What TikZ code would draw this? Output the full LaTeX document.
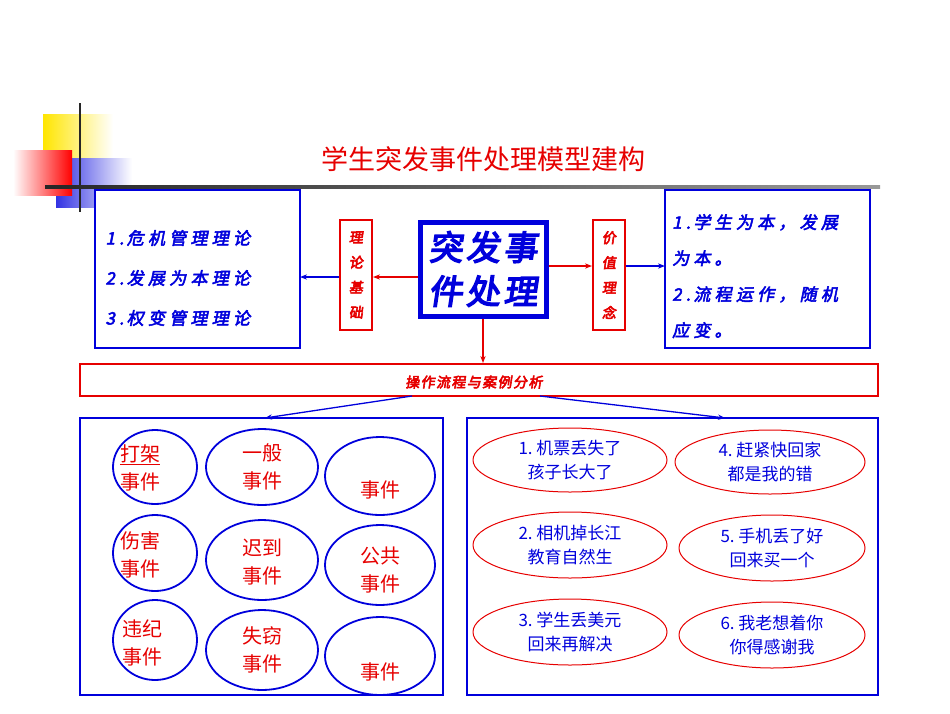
\documentclass[tikz,border=0pt]{standalone}
\usepackage{fontspec}
\newfontfamily\cjk{Noto Sans CJK SC}
\newfontfamily\cjkb{Noto Sans CJK SC}[FakeSlant=0.2,FakeBold=3,LetterSpace=25]
\newfontfamily\cjkc{Noto Sans CJK SC}[FakeSlant=0.15,FakeBold=4,LetterSpace=10]
\usetikzlibrary{arrows.meta}
\definecolor{bl}{RGB}{0,0,220}
\definecolor{rd}{RGB}{230,0,0}
\tikzset{
 bbox/.style={draw=bl,line width=2.5pt},
 rbox/.style={draw=rd,line width=2pt},
 ell/.style={draw=bl,line width=1.8pt},
 rell/.style={draw=rd,line width=1pt},
 ra/.style={draw=rd,line width=1.5pt,-{Stealth[length=7pt]}},
 ba/.style={draw=bl,line width=1.5pt,-{Stealth[length=7pt]}},
 et/.style={text=rd,font=\cjk\fontsize{20}{28}\selectfont,align=center},
 rt/.style={text=bl,font=\cjk\fontsize{17}{24}\selectfont,align=center},
 lt/.style={anchor=west,text=bl,font=\cjkb\fontsize{17}{20}\selectfont},
}
\begin{document}
\begin{tikzpicture}[x=1pt,y=-1pt]
\useasboundingbox (0,0) rectangle (950,713);
% decoration
\shade[left color=yellow!80!orange,right color=white] (43,114) rectangle (113,185);
\shade[left color=bl!80,right color=white] (56,158) rectangle (132,207);
\shade[left color=white,right color=red] (13,150) rectangle (72,195);
\draw[line width=2.5pt,black!85] (80,103) -- (80,212);
\shade[left color=black!85,right color=black!40] (45,185.5) rectangle (880,188.5);
\node[text=rd,font=\cjk\fontsize{27}{30}\selectfont] (title) at (483,159) {学生突发事件处理模型建构};
% top boxes
\draw[bbox,fill=white] (95,190) rectangle (300,348);
\coordinate (lb) at (300,277);
\node[lt] (l1) at (102,238) {1.\,危机管理理论};
\node[lt] (l2) at (102,278) {2.\,发展为本理论};
\node[lt] (l3) at (102,318) {3.\,权变管理理论};
\node[rbox,minimum width=32pt,minimum height=110pt,inner sep=0pt,text=rd,align=center,font=\cjkc\fontsize{14}{25}\selectfont] (jc) at (356,275) {理\\论\\基\\础};
\node[draw=bl,line width=5pt,minimum width=126pt,minimum height=94pt,inner sep=0pt,text=bl,align=center,font=\cjkc\fontsize{34}{44}\selectfont] (c) at (483,269) {突发事\\件处理};
\node[rbox,minimum width=32pt,minimum height=110pt,inner sep=0pt,text=rd,align=center,font=\cjkc\fontsize{14}{25}\selectfont] (lz) at (609,275) {价\\值\\理\\念};
\draw[bbox,fill=white] (665,190) rectangle (870,348);
\coordinate (rb) at (665,266);
\node[anchor=north west,text=bl,align=left,font=\cjkb\fontsize{17}{20}\selectfont,text width=200pt,inner sep=0pt] (r1) at (672,214) {1.\,学生为本，发展\\[16pt]为本。\\[16pt]2.\,流程运作，随机\\[16pt]应变。};
\draw[ra] (c.west |- 0,277) -- (jc.east |- 0,277);
\draw[ba] (jc.west |- 0,277) -- (lb);
\draw[ra] (c.east |- 0,266) -- (lz.west |- 0,266);
\draw[ba] (lz.east |- 0,266) -- (rb);
% bar
\node[rbox,minimum width=798pt,minimum height=32pt,inner sep=0pt] (bar) at (479,380) {};
\node[text=rd,font=\cjkc\fontsize{14}{16}\selectfont] (bt) at (474,382) {操作流程与案例分析};
\draw[ra] (c.south) -- (bar.north -| c.south);
% lower boxes
\draw[bbox] (80,418) rectangle (443,695);
\draw[bbox] (467,418) rectangle (878,695);
\coordinate (lt) at (265,418);
\coordinate (rtt) at (725,418);
\coordinate (b1) at (412,396);
\coordinate (b2) at (540,396);
\draw[ba,line width=1.3pt] (b1) -- (lt);
\draw[ba,line width=1.3pt] (b2) -- (rtt);
% left ellipses
\draw[ell] (155,467) ellipse [x radius=42,y radius=37];
\draw[ell] (262,467) ellipse [x radius=56,y radius=38];
\draw[ell] (380,476) ellipse [x radius=55,y radius=39];
\draw[ell] (155,553) ellipse [x radius=42,y radius=38];
\draw[ell] (262,560) ellipse [x radius=56,y radius=40];
\draw[ell] (380,565) ellipse [x radius=55,y radius=40];
\draw[ell] (155,640) ellipse [x radius=42,y radius=40];
\draw[ell] (262,650) ellipse [x radius=56,y radius=40];
\draw[ell] (380,656) ellipse [x radius=55,y radius=39];
\node[et] (e1) at (140,468) {\underline{打架}\\事件};
\node[et] (e2) at (262,467) {一般\\事件};
\node[et] (e3) at (380,490) {事件};
\node[et] (e4) at (140,555) {伤害\\事件};
\node[et] (e5) at (262,562) {迟到\\事件};
\node[et] (e6) at (380,570) {公共\\事件};
\node[et] (e7) at (142,643) {违纪\\事件};
\node[et] (e8) at (262,650) {失窃\\事件};
\node[et] (e9) at (380,672) {事件};
% right ellipses
\draw[rell] (570,460) ellipse [x radius=97,y radius=32];
\draw[rell] (770,462) ellipse [x radius=95,y radius=32];
\draw[rell] (570,545) ellipse [x radius=97,y radius=33];
\draw[rell] (772,548) ellipse [x radius=93,y radius=33];
\draw[rell] (570,632) ellipse [x radius=97,y radius=33];
\draw[rell] (772,635) ellipse [x radius=93,y radius=33];
\node[rt] (f1) at (570,460) {1.\ 机票丢失了\\孩子长大了};
\node[rt] (f4) at (770,462) {4.\ 赶紧快回家\\都是我的错};
\node[rt] (f2) at (570,545) {2.\ 相机掉长江\\教育自然生};
\node[rt] (f5) at (772,548) {5.\ 手机丢了好\\回来买一个};
\node[rt] (f3) at (570,632) {3.\ 学生丢美元\\回来再解决};
\node[rt] (f6) at (772,635) {6.\ 我老想着你\\你得感谢我};
\end{tikzpicture}
\end{document}
